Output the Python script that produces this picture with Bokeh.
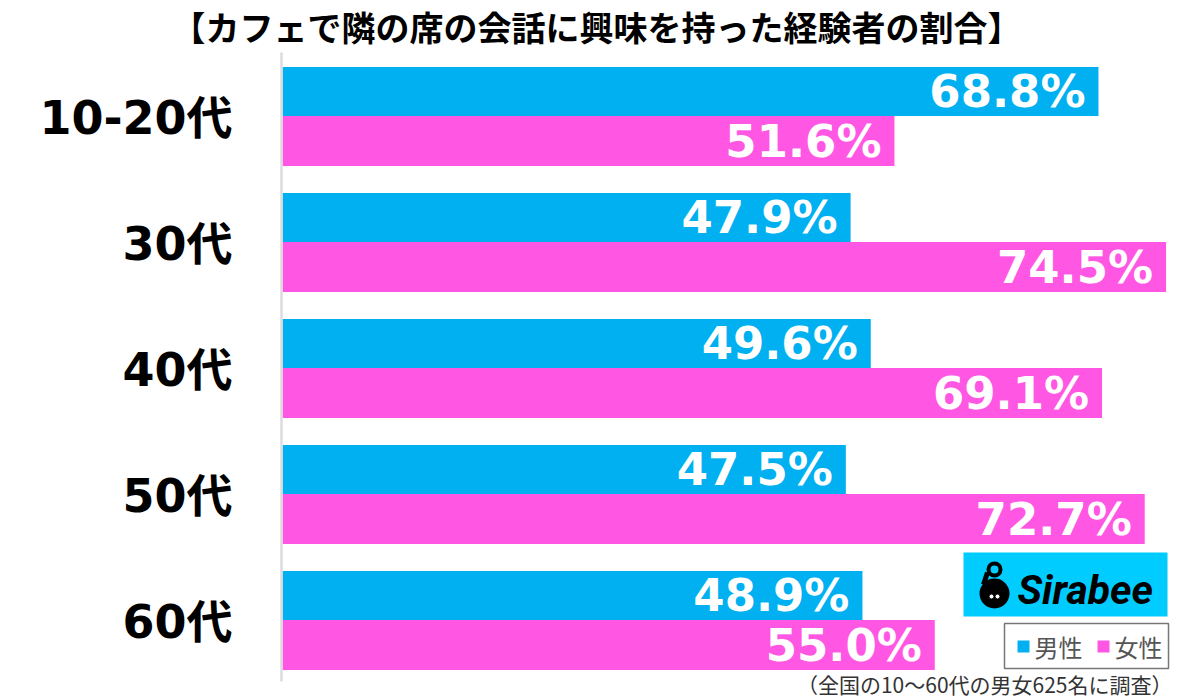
from bokeh.plotting import figure
from bokeh.models import Range1d
from bokeh.core.properties import value
from bokeh.embed import file_html
from bokeh.resources import INLINE

categories = ["10-20代", "30代", "40代", "50代", "60代"]
male = [68.8, 47.9, 49.6, 47.5, 48.9]
female = [51.6, 74.5, 69.1, 72.7, 55.0]
title_text = "【カフェで隣の席の会話に興味を持った経験者の割合】"
note_text = "（全国の10〜60代の男女625名に調査）"
legend_labels = ["男性", "女性"]
logo_text = "Sirabee"

BLUE = "#00B0F0"
PINK = "#FF57E3"
W, H = 1200, 699
X0 = 282.0
PX = 11.86


def dx(px):
    return (px - X0) / PX


p = figure(width=W, height=H, x_range=Range1d(dx(0), dx(W)), y_range=Range1d(H, 0),
           output_backend="svg", toolbar_location=None, min_border=0,
           x_axis_location=None, y_axis_location=None)
p.grid.visible = False
p.outline_line_color = None
p.background_fill_color = "white"
p.border_fill_color = "white"

centers = [115.5 + 126 * i for i in range(len(categories))]
yb = [c - 24.5 for c in centers]
yp = [c + 25 for c in centers]

p.hbar(y=yb, left=0, right=male, height=49, fill_color=BLUE, line_color=None)
p.hbar(y=yp, left=0, right=female, height=50, fill_color=PINK, line_color=None)

# axis line
p.segment(x0=[dx(281)], y0=[52], x1=[dx(281)], y1=[681], line_color="#dcdcdc", line_width=2.5)

num_font = value("DejaVu Sans, Noto Sans CJK JP")
p.text(x=male, y=yb, text=[f"{v:.1f}%" for v in male], text_align="right", text_baseline="middle",
       x_offset=-13, text_color="white", text_font=num_font, text_font_style="bold", text_font_size="45px")
p.text(x=female, y=yp, text=[f"{v:.1f}%" for v in female], text_align="right", text_baseline="middle",
       x_offset=-13, text_color="white", text_font=num_font, text_font_style="bold", text_font_size="45px")

p.text(x=[dx(232)] * len(categories), y=[c + 2 for c in centers], text=categories, text_align="right",
       text_baseline="middle", text_color="black", text_font=num_font, text_font_style="bold",
       text_font_size="46px")

# title
p.text(x=[dx(596)], y=[26], text=[title_text], text_align="center", text_baseline="middle",
       text_color="black", text_font=value("Noto Sans CJK JP"), text_font_style="bold",
       text_font_size="34px")

# logo
p.quad(left=[dx(963)], right=[dx(1167)], top=[552], bottom=[616], fill_color="#00CCFF", line_color=None)
p.circle(x=[dx(994)], y=[593], radius=15, radius_units="screen", fill_color="black", line_color=None)
p.segment(x0=[dx(987)], y0=[572], x1=[dx(983)], y1=[584], line_color="black", line_width=5)
p.circle(x=[dx(994)], y=[569], radius=6, radius_units="screen", fill_color=None, line_color="black", line_width=4)
p.circle(x=[dx(991), dx(997)], y=[596, 596], radius=2.5, radius_units="screen", fill_color="white", line_color="black", line_width=1)
p.text(x=[dx(1017)], y=[589], text=[logo_text], text_align="left", text_baseline="middle",
       text_color="black", text_font=value("Roboto"), text_font_style="bold italic", text_font_size="41px")

# legend
p.quad(left=[dx(1004)], right=[dx(1168)], top=[623], bottom=[668], fill_color="white",
       line_color="#777777", line_width=1.5)
p.quad(left=[dx(1017), dx(1097)], right=[dx(1029), dx(1109)], top=[640, 640], bottom=[652, 652],
       fill_color=[BLUE, PINK], line_color=None)
p.text(x=[dx(1034), dx(1114)], y=[646, 646], text=legend_labels, text_align="left", text_baseline="middle",
       text_color="#555555", text_font=value("Noto Sans CJK JP"), text_font_size="24px")

# note
p.text(x=[dx(1172)], y=[683], text=[note_text], text_align="right", text_baseline="middle",
       text_color="#333333", text_font=value("Noto Sans CJK JP"), text_font_size="21px")

open("out.html", "w").write(file_html(p, INLINE))
